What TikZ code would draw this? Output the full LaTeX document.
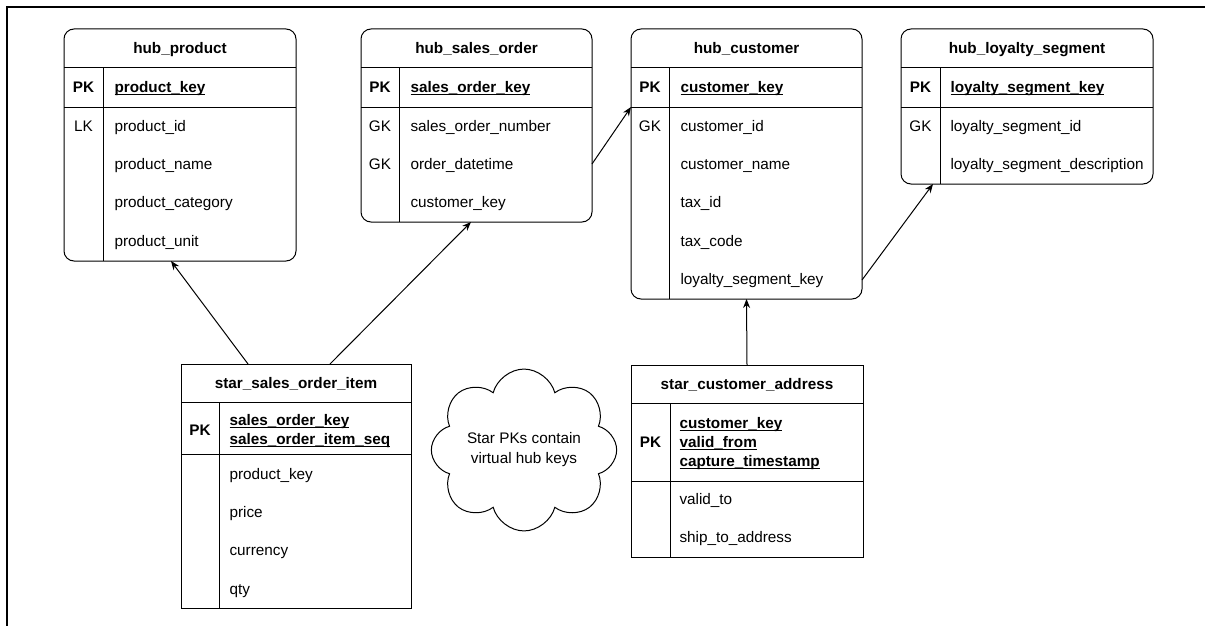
\documentclass[tikz,border=0pt]{standalone}
\usepackage{fontspec}
\setmainfont{Liberation Sans}
\usetikzlibrary{shapes.symbols,arrows.meta}
\newsavebox\pkbox
\newcommand\pkey[1]{\sbox\pkbox{#1}\rlap{\rule[-2.6pt]{\wd\pkbox}{1.2pt}}\usebox\pkbox}
\tikzset{
	hub/.style={draw,rounded corners=10pt,inner sep=0,outer sep=0,anchor=north west},
	star/.style={draw,inner sep=0,outer sep=0,anchor=north west},
	fld/.style={anchor=mid west,inner sep=0,yshift=-2.5pt},
	tag/.style={anchor=mid,inner sep=0,yshift=-2.5pt},
	link/.style={-{Stealth[length=9pt,width=7pt]}}
}
\begin{document}
\begin{tikzpicture}[x=1pt,y=-1pt,line width=1pt,font=\fontsize{15.3}{20}\selectfont]
	\useasboundingbox (0,0) rectangle (1205,626);
	\draw[line width=2.8pt] (7,626) -- (7,7) -- (1205,7);
	% hub_product
	\node[hub,minimum width=232,minimum height=232] (prod) at (64,29) {};
	\draw (64,68) -- (296,68) (64,107) -- (296,107) (103,68) -- (103,261);
	\node[tag] (prod-t) at (180,48) {\textbf{hub\_product}};
	\node[tag] (prod-pk) at (83.5,87) {\textbf{PK}};
	\node[fld] (prod-k) at (114,87) {\pkey{\textbf{product\_key}}};
	\node[tag] (prod-lk) at (83.5,126) {LK};
	\foreach \t [count=\i from 0] in {product\_id,product\_name,product\_category,product\_unit}
		\node[fld] (prod-\i) at (114,{126+38.3*\i}) {\t};
	% hub_sales_order
	\node[hub,minimum width=231,minimum height=193] (so) at (361,29) {};
	\draw (361,68) -- (592,68) (361,107) -- (592,107) (399,68) -- (399,222);
	\node[tag] (so-t) at (476.5,48) {\textbf{hub\_sales\_order}};
	\node[tag] (so-pk) at (380,87) {\textbf{PK}};
	\node[fld] (so-k) at (410,87) {\pkey{\textbf{sales\_order\_key}}};
	\node[tag] (so-gk1) at (380,126) {GK};
	\node[tag] (so-gk2) at (380,164) {GK};
	\foreach \t [count=\i from 0] in {sales\_order\_number,order\_datetime,customer\_key}
		\node[fld] (so-\i) at (410,{126+38.3*\i}) {\t};
	% hub_customer
	\node[hub,minimum width=231,minimum height=270] (cust) at (631,29) {};
	\draw (631,68) -- (862,68) (631,107) -- (862,107) (669,68) -- (669,299);
	\node[tag] (cust-t) at (746.5,48) {\textbf{hub\_customer}};
	\node[tag] (cust-pk) at (650,87) {\textbf{PK}};
	\node[fld] (cust-k) at (680,87) {\pkey{\textbf{customer\_key}}};
	\node[tag] (cust-gk) at (650,126) {GK};
	\foreach \t [count=\i from 0] in {customer\_id,customer\_name,tax\_id,tax\_code,loyalty\_segment\_key}
		\node[fld] (cust-\i) at (680,{126+38.3*\i}) {\t};
	% hub_loyalty_segment
	\node[hub,minimum width=252,minimum height=155] (loy) at (901,29) {};
	\draw (901,68) -- (1153,68) (901,107) -- (1153,107) (940,68) -- (940,184);
	\node[tag] (loy-t) at (1027,48) {\textbf{hub\_loyalty\_segment}};
	\node[tag] (loy-pk) at (920.5,87) {\textbf{PK}};
	\node[fld] (loy-k) at (950,87) {\pkey{\textbf{loyalty\_segment\_key}}};
	\node[tag] (loy-gk) at (920.5,126) {GK};
	\foreach \t [count=\i from 0] in {loyalty\_segment\_id,loyalty\_segment\_description}
		\node[fld] (loy-\i) at (950,{126+38.3*\i}) {\t};
	% star_sales_order_item
	\node[star,minimum width=230,minimum height=244] (soi) at (181,364) {};
	\draw (181,402) -- (411,402) (181,454) -- (411,454) (219,402) -- (219,608);
	\node[tag] (soi-t) at (296,383) {\textbf{star\_sales\_order\_item}};
	\node[tag] (soi-pk) at (200,430) {\textbf{PK}};
	\node[fld] (soi-k1) at (229,420) {\pkey{\textbf{sales\_order\_key}}};
	\node[fld] (soi-k2) at (229,439) {\pkey{\textbf{sales\_order\_item\_seq}}};
	\foreach \t [count=\i from 0] in {product\_key,price,currency,qty}
		\node[fld] (soi-\i) at (229,{474+38.3*\i}) {\t};
	% star_customer_address
	\node[star,minimum width=232,minimum height=192] (ca) at (631,365) {};
	\draw (631,403) -- (863,403) (631,481) -- (863,481) (670,403) -- (670,557);
	\node[tag] (ca-t) at (747,384) {\textbf{star\_customer\_address}};
	\node[tag] (ca-pk) at (650.5,442) {\textbf{PK}};
	\node[fld] (ca-k1) at (679,423) {\pkey{\textbf{customer\_key}}};
	\node[fld] (ca-k2) at (679,442) {\pkey{\textbf{valid\_from}}};
	\node[fld] (ca-k3) at (679,461) {\pkey{\textbf{capture\_timestamp}}};
	\foreach \t [count=\i from 0] in {valid\_to,ship\_to\_address}
		\node[fld] (ca-\i) at (679,{499+38.7*\i}) {\t};
	% note
	\node[cloud,draw,cloud puffs=8,aspect=1.3,minimum width=176,minimum height=138,inner sep=0,align=center] (note) at (524,450) {Star PKs contain\\virtual hub keys};
	% links
	\draw[link] ([xshift=-48pt]soi.north) -- ([xshift=-9pt]prod.south);
	\draw[link] ([xshift=34pt]soi.north) -- ([xshift=-5.5pt]so.south);
	\draw[link] ([yshift=-38.5pt]so.east) -- ([yshift=57pt]cust.west);
	\draw[link] ([yshift=-116pt]cust.east) -- ([xshift=-94pt]loy.south);
	\draw[link] (ca.north) -- (cust.south);
\end{tikzpicture}
\end{document}
